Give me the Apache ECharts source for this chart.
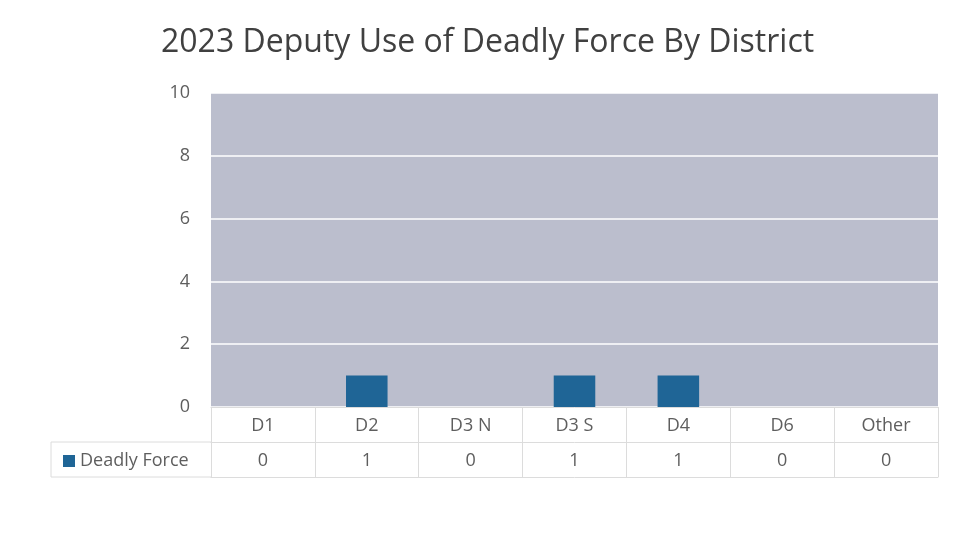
<!DOCTYPE html>
<html>
<head>
<meta charset="utf-8">
<script src="https://cdn.jsdelivr.net/npm/echarts@6/dist/echarts.min.js"></script>
<style>
  html, body { margin: 0; padding: 0; background: #ffffff; }
  #chart { width: 956px; height: 535px; }
</style>
</head>
<body>
<div id="chart"></div>
<script>
// Districts along the category axis
const districts = ['D1', 'D2', 'D3 N', 'D3 S', 'D4', 'D6', 'Other'];
// Deputy use of deadly force incidents per district, 2023
const deadlyForce = [0, 1, 0, 1, 1, 0, 0];
const seriesName = 'Deadly Force';
const titleText = '2023 Deputy Use of Deadly Force By District';

const FONT = '"Open Sans", "Noto Sans", sans-serif';
const TEXT_GREY = '#5e5e5e';
const TABLE_LINE = '#dcdcdc';
const BAR_BLUE = '#1f6596';
const LABEL_SIZE = 18;

const chart = echarts.init(document.getElementById('chart'), null, { renderer: 'canvas' });

const gridLeft = 211, gridRight = 18, gridTop = 93, gridBottom = 128;
const rowH = 35;

const option = {
  backgroundColor: '#ffffff',
  animation: false,
  title: {
    text: titleText,
    left: 156,
    top: 22,
    textStyle: { fontFamily: FONT, fontSize: 32, fontWeight: 'normal', color: '#404040' }
  },
  legend: {
    data: [seriesName],
    left: 58,
    top: 447,
    icon: 'rect',
    itemWidth: 12,
    itemHeight: 12,
    itemGap: 6,
    textStyle: { fontFamily: FONT, fontSize: LABEL_SIZE, color: TEXT_GREY, padding: [0, 0, 0, 0] }
  },
  grid: {
    left: gridLeft, right: gridRight, top: gridTop, bottom: gridBottom,
    show: true, backgroundColor: '#bbbecd', borderWidth: 0
  },
  xAxis: [
    {
      // category header row of the data table
      type: 'category',
      data: districts,
      position: 'bottom',
      axisLine: { show: true, lineStyle: { color: TABLE_LINE, width: 1 } },
      axisTick: { show: true, length: rowH * 2, lineStyle: { color: TABLE_LINE } },
      axisLabel: { fontFamily: FONT, fontSize: LABEL_SIZE, color: TEXT_GREY, margin: 10 },
      splitLine: { show: false }
    },
    {
      // value row of the data table
      type: 'category',
      data: deadlyForce.map(String),
      position: 'bottom',
      offset: rowH,
      gridIndex: 0,
      axisLine: { show: true, lineStyle: { color: TABLE_LINE, width: 1 } },
      axisTick: { show: false },
      axisLabel: { fontFamily: FONT, fontSize: LABEL_SIZE, color: TEXT_GREY, margin: 10 },
      splitLine: { show: false }
    },
    {
      // bottom border of the data table
      type: 'category',
      data: districts,
      position: 'bottom',
      offset: rowH * 2,
      gridIndex: 0,
      axisLine: { show: true, lineStyle: { color: TABLE_LINE, width: 1 } },
      axisTick: { show: false },
      axisLabel: { show: false },
      splitLine: { show: false }
    }
  ],
  yAxis: {
    type: 'value',
    min: 0,
    max: 10,
    interval: 2,
    axisLine: { show: false },
    axisTick: { show: false },
    axisLabel: { fontFamily: FONT, fontSize: LABEL_SIZE, color: TEXT_GREY, margin: 21 },
    splitLine: { show: true, lineStyle: { color: '#ffffff', width: 1.5 } }
  },
  series: [
    {
      name: seriesName,
      type: 'bar',
      xAxisIndex: 0,
      data: deadlyForce,
      barWidth: '40%',
      itemStyle: { color: BAR_BLUE }
    }
  ]
};

chart.setOption(option);

// Legend cell to the left of the table rows
const tableLeft = 51;
const yZero = chart.convertToPixel({ yAxisIndex: 0 }, 0);
chart.setOption({
  graphic: [
    {
      type: 'polyline',
      silent: true,
      z: 0,
      shape: {
        points: [
          [gridLeft, yZero + rowH],
          [tableLeft, yZero + rowH],
          [tableLeft, yZero + rowH * 2],
          [gridLeft, yZero + rowH * 2]
        ]
      },
      style: { stroke: TABLE_LINE, fill: null, lineWidth: 1 }
    }
  ]
});
</script>
</body>
</html>
